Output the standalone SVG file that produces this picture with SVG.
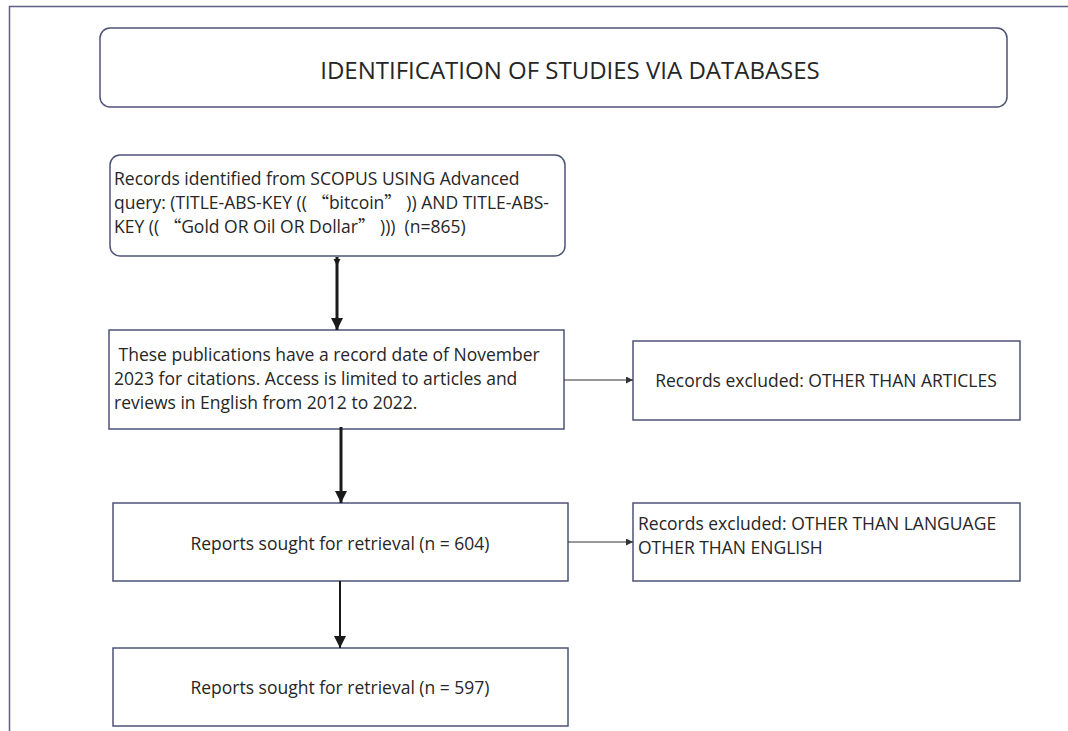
<svg xmlns="http://www.w3.org/2000/svg" width="1068" height="731" viewBox="0 0 1068 731">
  <style>
    .frame { fill: none; stroke: #5b6182; stroke-width: 1.5; }
    .box { fill: #ffffff; stroke: #4d5375; stroke-width: 1.5; }
    .txt { font-family: "Open Sans", "Noto Sans", "Liberation Sans", sans-serif; font-size: 17.5px; fill: #262626; white-space: pre; }
    .cjk { font-family: "Noto Sans CJK SC", "Noto Sans CJK JP", sans-serif; }
    .title { font-family: "Open Sans", "Noto Sans", "Liberation Sans", sans-serif; font-size: 24px; fill: #262626; }
    .mid { text-anchor: middle; }
    .thick { stroke: #1a1a1a; stroke-width: 3; fill: none; }
    .medium { stroke: #1a1a1a; stroke-width: 2; fill: none; }
    .thin { stroke: #333333; stroke-width: 1.2; fill: none; }
  </style>
  <defs>
    <marker id="headBig" viewBox="0 0 10 10" refX="10" refY="5" markerUnits="userSpaceOnUse" markerWidth="12" markerHeight="14" orient="auto">
      <path d="M0,0 L10,5 L0,10 Z" fill="#1a1a1a"/>
    </marker>
    <marker id="headSmall" viewBox="0 0 10 10" refX="10" refY="5" markerUnits="userSpaceOnUse" markerWidth="8" markerHeight="7" orient="auto">
      <path d="M0,0 L10,5 L0,10 Z" fill="#333333"/>
    </marker>
  </defs>

  <rect width="1068" height="731" fill="#ffffff"/>

  <!-- page frame: left and top rules -->
  <path class="frame" d="M9.5,731 V6.5 H1068"/>

  <g id="title">
    <rect class="box" x="100" y="28" width="907" height="79" rx="10"/>
    <text class="title mid" x="570" y="79">IDENTIFICATION OF STUDIES VIA DATABASES</text>
  </g>

  <g id="identified">
    <rect class="box" x="110" y="155" width="455" height="101" rx="10"/>
    <text class="txt" xml:space="preserve" x="114" y="185">Records identified from SCOPUS USING Advanced</text>
    <text class="txt" xml:space="preserve" x="114" y="209">query: (TITLE-ABS-KEY (( <tspan class="cjk">“</tspan>bitcoin<tspan class="cjk">”</tspan> )) AND TITLE-ABS-</text>
    <text class="txt" xml:space="preserve" x="114" y="233">KEY (( <tspan class="cjk">“</tspan>Gold OR Oil OR Dollar<tspan class="cjk">”</tspan> )))  (n=865)</text>
  </g>

  <g id="screening">
    <rect class="box" x="109" y="330" width="455" height="99"/>
    <text class="txt" xml:space="preserve" x="114" y="361"> These publications have a record date of November</text>
    <text class="txt" x="114" y="385">2023 for citations. Access is limited to articles and</text>
    <text class="txt" x="114" y="409">reviews in English from 2012 to 2022.</text>
  </g>

  <g id="excluded-articles">
    <rect class="box" x="633" y="341" width="387" height="79"/>
    <text class="txt mid" x="826" y="387">Records excluded: OTHER THAN ARTICLES</text>
  </g>

  <g id="sought-604">
    <rect class="box" x="113" y="503" width="455" height="78"/>
    <text class="txt mid" x="340" y="550">Reports sought for retrieval (n = 604)</text>
  </g>

  <g id="excluded-language">
    <rect class="box" x="633" y="503" width="387" height="78"/>
    <text class="txt" x="638" y="530">Records excluded: OTHER THAN LANGUAGE</text>
    <text class="txt" x="638" y="554">OTHER THAN ENGLISH</text>
  </g>

  <g id="sought-597">
    <rect class="box" x="113" y="648" width="455" height="78"/>
    <text class="txt mid" x="340" y="694">Reports sought for retrieval (n = 597)</text>
  </g>

  <g id="connectors">
    <line class="thick" x1="337" y1="257" x2="337" y2="330" marker-end="url(#headBig)"/>
    <path d="M333.5,259 L340.5,259 L337,266 Z" fill="#1a1a1a"/>
    <line class="thick" x1="341" y1="427" x2="341" y2="503" marker-end="url(#headBig)"/>
    <line class="medium" x1="340" y1="581" x2="340" y2="648" marker-end="url(#headBig)"/>
    <line class="thin" x1="564" y1="380" x2="633" y2="380" marker-end="url(#headSmall)"/>
    <line class="thin" x1="568" y1="542" x2="633" y2="542" marker-end="url(#headSmall)"/>
  </g>
</svg>
